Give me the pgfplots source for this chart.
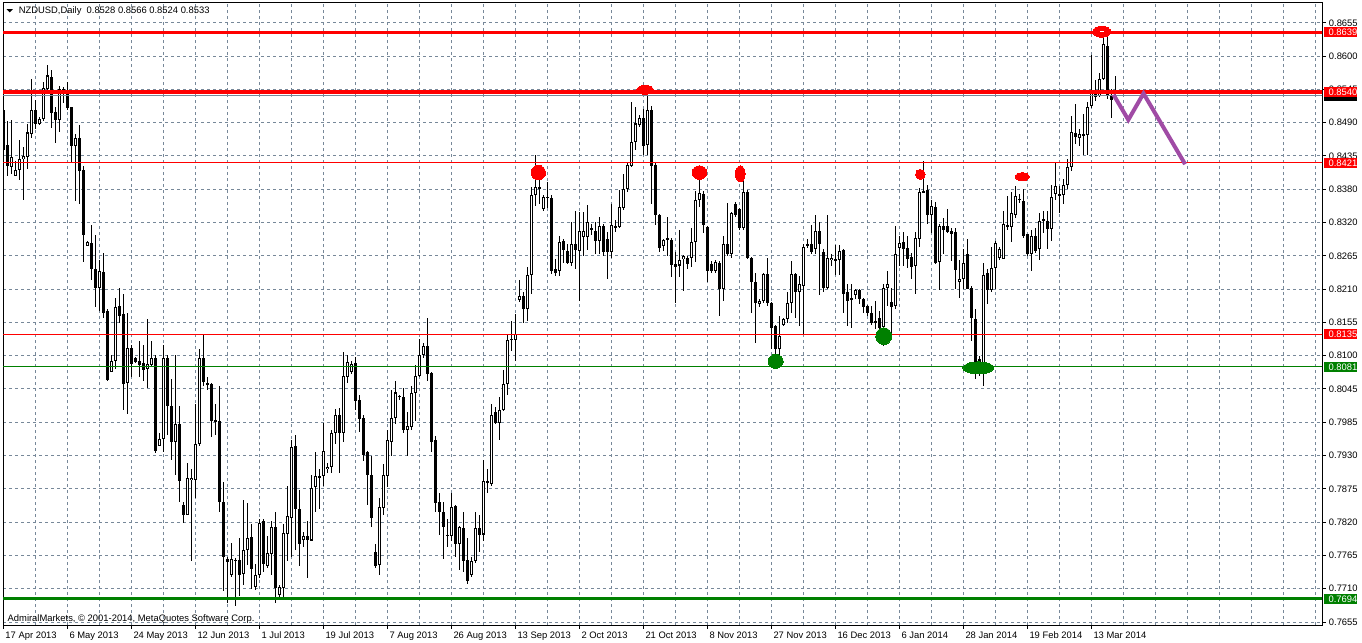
\documentclass[border=0pt]{standalone}
\usepackage{pgfplots}
\pgfplotsset{compat=1.18}
\usepackage{pgfplotstable}
\usepackage{fontspec}
\setmainfont{Liberation Sans}
\definecolor{gridc}{RGB}{119,136,153}
\definecolor{mtgreen}{RGB}{0,128,0}
\definecolor{mtpurple}{RGB}{160,75,165}
\newcommand\mt{\fontsize{4.7bp}{5.6bp}\selectfont}

\pgfplotstableread{
k o h l c
0 0.8510 0.8512 0.8410 0.8443
1 0.8451 0.8492 0.8399 0.8416
2 0.8415 0.8492 0.8402 0.8431
3 0.8400 0.8425 0.8399 0.8409
4 0.8409 0.8459 0.8393 0.8427
5 0.8428 0.8448 0.8359 0.8432
6 0.8431 0.8486 0.8411 0.8472
7 0.8470 0.8562 0.8463 0.8510
8 0.8510 0.8527 0.8477 0.8486
9 0.8486 0.8498 0.8484 0.8495
10 0.8495 0.8556 0.8492 0.8546
11 0.8544 0.8585 0.8538 0.8567
12 0.8564 0.8577 0.8480 0.8504
13 0.8507 0.8515 0.8454 0.8493
14 0.8493 0.8549 0.8472 0.8544
15 0.8538 0.8548 0.8521 0.8544
16 0.8538 0.8556 0.8510 0.8512
17 0.8515 0.8515 0.8422 0.8450
18 0.8450 0.8469 0.8358 0.8463
19 0.8463 0.8484 0.8352 0.8407
20 0.8410 0.8416 0.8256 0.8300
21 0.8283 0.8290 0.8282 0.8289
22 0.8288 0.8317 0.8226 0.8244
23 0.8244 0.8301 0.8180 0.8213
24 0.8213 0.8259 0.8174 0.8241
25 0.8240 0.8270 0.8162 0.8171
26 0.8174 0.8177 0.8057 0.8059
27 0.8073 0.8101 0.8072 0.8090
28 0.8091 0.8195 0.8078 0.8180
29 0.8183 0.8212 0.8154 0.8166
30 0.8169 0.8203 0.8008 0.8052
31 0.8054 0.8171 0.8003 0.8113
32 0.8113 0.8118 0.8064 0.8085
33 0.8096 0.8098 0.8087 0.8089
34 0.8091 0.8124 0.8064 0.8084
35 0.8087 0.8118 0.8057 0.8075
36 0.8078 0.8160 0.8046 0.8085
37 0.8084 0.8124 0.8083 0.8095
38 0.8096 0.8101 0.7937 0.7941
39 0.7949 0.7970 0.7948 0.7961
40 0.7961 0.8118 0.7938 0.8096
41 0.8096 0.8100 0.7968 0.8016
42 0.8016 0.8060 0.7926 0.7956
43 0.7955 0.8101 0.7900 0.7986
44 0.7986 0.8016 0.7856 0.7890
45 0.7851 0.7855 0.7821 0.7833
46 0.7834 0.7921 0.7833 0.7895
47 0.7892 0.7911 0.7757 0.7896
48 0.7892 0.8019 0.7862 0.7952
49 0.7952 0.8110 0.7949 0.8095
50 0.8095 0.8136 0.8049 0.8055
51 0.8054 0.8064 0.8043 0.8052
52 0.8052 0.8054 0.7964 0.7990
53 0.7992 0.8019 0.7967 0.7990
54 0.7990 0.8049 0.7839 0.7856
55 0.7856 0.7888 0.7706 0.7763
56 0.7760 0.7763 0.7687 0.7755
57 0.7734 0.7787 0.7730 0.7760
58 0.7759 0.7761 0.7681 0.7757
59 0.7759 0.7795 0.7698 0.7734
60 0.7735 0.7859 0.7716 0.7775
61 0.7775 0.7854 0.7751 0.7795
62 0.7797 0.7818 0.7711 0.7744
63 0.7713 0.7751 0.7708 0.7733
64 0.7734 0.7827 0.7728 0.7821
65 0.7824 0.7827 0.7739 0.7751
66 0.7749 0.7798 0.7746 0.7770
67 0.7769 0.7824 0.7734 0.7813
68 0.7813 0.7839 0.7687 0.7711
69 0.7700 0.7716 0.7696 0.7713
70 0.7712 0.7818 0.7692 0.7803
71 0.7802 0.7882 0.7757 0.7832
72 0.7829 0.7959 0.7763 0.7947
73 0.7948 0.7967 0.7775 0.7843
74 0.7843 0.7875 0.7749 0.7786
75 0.7792 0.7806 0.7780 0.7798
76 0.7798 0.7824 0.7728 0.7792
77 0.7791 0.7900 0.7790 0.7879
78 0.7880 0.7938 0.7839 0.7898
79 0.7896 0.7911 0.7844 0.7898
80 0.7898 0.7987 0.7882 0.7941
81 0.7910 0.7921 0.7903 0.7914
82 0.7913 0.7975 0.7903 0.7970
83 0.7970 0.8011 0.7952 0.8000
84 0.8000 0.8013 0.7903 0.7971
85 0.7970 0.8105 0.7955 0.8066
86 0.8064 0.8101 0.8054 0.8089
87 0.8073 0.8090 0.8069 0.8086
88 0.8087 0.8098 0.8008 0.8023
89 0.8026 0.8034 0.7973 0.7993
90 0.7996 0.8000 0.7923 0.7934
91 0.7938 0.7941 0.7850 0.7900
92 0.7900 0.7932 0.7813 0.7828
93 0.7772 0.7786 0.7745 0.7749
94 0.7751 0.7862 0.7734 0.7847
95 0.7845 0.7918 0.7833 0.7900
96 0.7898 0.7975 0.7880 0.7959
97 0.7956 0.8043 0.7932 0.7996
98 0.7996 0.8057 0.7985 0.8038
99 0.8031 0.8034 0.8026 0.8032
100 0.8030 0.8046 0.7970 0.7975
101 0.7975 0.8005 0.7932 0.7982
102 0.7980 0.8049 0.7975 0.8038
103 0.8037 0.8084 0.7990 0.8066
104 0.8066 0.8128 0.8064 0.8100
105 0.8100 0.8120 0.8095 0.8116
106 0.8116 0.8162 0.8057 0.8069
107 0.8070 0.8072 0.7938 0.7956
108 0.7959 0.7966 0.7839 0.7854
109 0.7855 0.7870 0.7801 0.7839
110 0.7839 0.7856 0.7760 0.7813
111 0.7799 0.7827 0.7780 0.7801
112 0.7798 0.7870 0.7790 0.7847
113 0.7848 0.7850 0.7763 0.7786
114 0.7786 0.7816 0.7742 0.7813
115 0.7812 0.7839 0.7739 0.7757
116 0.7758 0.7795 0.7719 0.7723
117 0.7734 0.7763 0.7731 0.7757
118 0.7757 0.7839 0.7754 0.7812
119 0.7812 0.7833 0.7772 0.7801
120 0.7801 0.7926 0.7790 0.7890
121 0.7891 0.7911 0.7870 0.7888
122 0.7885 0.8019 0.7882 0.8000
123 0.8005 0.8013 0.7985 0.7987
124 0.7987 0.8031 0.7959 0.8009
125 0.8009 0.8075 0.8008 0.8053
126 0.8052 0.8136 0.8034 0.8126
127 0.8126 0.8157 0.8107 0.8128
128 0.8126 0.8169 0.8090 0.8135
129 0.8192 0.8226 0.8189 0.8199
130 0.8199 0.8206 0.8154 0.8177
131 0.8177 0.8247 0.8157 0.8234
132 0.8234 0.8381 0.8203 0.8368
133 0.8367 0.8435 0.8349 0.8381
134 0.8379 0.8410 0.8352 0.8380
135 0.8345 0.8367 0.8341 0.8364
136 0.8363 0.8390 0.8346 0.8364
137 0.8363 0.8367 0.8236 0.8241
138 0.8244 0.8261 0.8233 0.8238
139 0.8241 0.8300 0.8233 0.8290
140 0.8290 0.8294 0.8255 0.8275
141 0.8275 0.8286 0.8252 0.8255
142 0.8254 0.8323 0.8250 0.8286
143 0.8286 0.8341 0.8244 0.8275
144 0.8275 0.8339 0.8191 0.8307
145 0.8298 0.8339 0.8266 0.8307
146 0.8298 0.8351 0.8275 0.8322
147 0.8310 0.8320 0.8300 0.8312
148 0.8307 0.8323 0.8269 0.8291
149 0.8291 0.8331 0.8269 0.8316
150 0.8316 0.8320 0.8266 0.8272
151 0.8295 0.8306 0.8227 0.8272
152 0.8272 0.8353 0.8263 0.8318
153 0.8313 0.8326 0.8306 0.8316
154 0.8314 0.8376 0.8312 0.8348
155 0.8346 0.8403 0.8342 0.8378
156 0.8378 0.8423 0.8373 0.8418
157 0.8416 0.8523 0.8414 0.8456
158 0.8456 0.8514 0.8442 0.8487
159 0.8485 0.8501 0.8481 0.8496
160 0.8496 0.8512 0.8434 0.8449
161 0.8451 0.8545 0.8434 0.8509
162 0.8509 0.8517 0.8353 0.8416
163 0.8417 0.8423 0.8317 0.8334
164 0.8334 0.8336 0.8272 0.8280
165 0.8282 0.8295 0.8275 0.8292
166 0.8292 0.8331 0.8266 0.8295
167 0.8293 0.8295 0.8230 0.8250
168 0.8252 0.8272 0.8188 0.8247
169 0.8250 0.8309 0.8230 0.8259
170 0.8261 0.8267 0.8208 0.8265
171 0.8263 0.8266 0.8244 0.8252
172 0.8263 0.8312 0.8247 0.8290
173 0.8290 0.8374 0.8256 0.8359
174 0.8359 0.8409 0.8348 0.8371
175 0.8370 0.8374 0.8305 0.8317
176 0.8314 0.8316 0.8222 0.8240
177 0.8252 0.8258 0.8238 0.8241
178 0.8241 0.8260 0.8238 0.8255
179 0.8255 0.8258 0.8165 0.8210
180 0.8210 0.8300 0.8191 0.8286
181 0.8286 0.8355 0.8266 0.8269
182 0.8269 0.8339 0.8263 0.8337
183 0.8353 0.8356 0.8331 0.8334
184 0.8345 0.8346 0.8309 0.8313
185 0.8313 0.8409 0.8309 0.8373
186 0.8373 0.8376 0.8261 0.8263
187 0.8263 0.8264 0.8171 0.8222
188 0.8222 0.8238 0.8121 0.8188
189 0.8186 0.8194 0.8180 0.8191
190 0.8191 0.8238 0.8188 0.8236
191 0.8236 0.8263 0.8183 0.8188
192 0.8188 0.8189 0.8110 0.8146
193 0.8149 0.8150 0.8096 0.8110
194 0.8110 0.8165 0.8093 0.8133
195 0.8151 0.8162 0.8149 0.8160
196 0.8160 0.8205 0.8154 0.8188
197 0.8188 0.8258 0.8171 0.8236
198 0.8236 0.8238 0.8162 0.8205
199 0.8205 0.8233 0.8149 0.8219
200 0.8216 0.8286 0.8135 0.8280
201 0.8284 0.8294 0.8280 0.8286
202 0.8286 0.8317 0.8269 0.8273
203 0.8277 0.8334 0.8269 0.8307
204 0.8307 0.8323 0.8200 0.8286
205 0.8273 0.8277 0.8205 0.8213
206 0.8213 0.8334 0.8211 0.8263
207 0.8259 0.8269 0.8249 0.8263
208 0.8261 0.8285 0.8235 0.8259
209 0.8260 0.8284 0.8235 0.8274
210 0.8276 0.8277 0.8171 0.8202
211 0.8205 0.8219 0.8149 0.8191
212 0.8193 0.8219 0.8146 0.8196
213 0.8200 0.8211 0.8194 0.8209
214 0.8209 0.8210 0.8185 0.8194
215 0.8194 0.8195 0.8171 0.8181
216 0.8183 0.8184 0.8166 0.8170
217 0.8170 0.8183 0.8150 0.8154
218 0.8157 0.8191 0.8144 0.8155
219 0.8163 0.8174 0.8141 0.8146
220 0.8148 0.8219 0.8116 0.8213
221 0.8213 0.8241 0.8183 0.8219
222 0.8189 0.8213 0.8138 0.8181
223 0.8182 0.8316 0.8177 0.8270
224 0.8280 0.8299 0.8249 0.8287
225 0.8289 0.8305 0.8249 0.8278
226 0.8280 0.8299 0.8246 0.8261
227 0.8265 0.8271 0.8227 0.8248
228 0.8249 0.8305 0.8202 0.8296
229 0.8294 0.8380 0.8280 0.8373
230 0.8373 0.8424 0.8371 0.8374
231 0.8376 0.8385 0.8319 0.8335
232 0.8334 0.8360 0.8305 0.8349
233 0.8348 0.8356 0.8252 0.8255
234 0.8256 0.8320 0.8209 0.8316
235 0.8316 0.8330 0.8269 0.8310
236 0.8316 0.8344 0.8305 0.8306
237 0.8308 0.8313 0.8258 0.8302
238 0.8305 0.8313 0.8210 0.8243
239 0.8223 0.8260 0.8195 0.8228
240 0.8228 0.8277 0.8210 0.8255
241 0.8269 0.8294 0.8210 0.8211
242 0.8213 0.8216 0.8124 0.8163
243 0.8161 0.8177 0.8060 0.8083
244 0.8094 0.8099 0.8066 0.8083
245 0.8083 0.8255 0.8049 0.8234
246 0.8238 0.8244 0.8185 0.8209
247 0.8209 0.8280 0.8205 0.8245
248 0.8245 0.8291 0.8210 0.8287
249 0.8263 0.8281 0.8260 0.8277
250 0.8261 0.8341 0.8260 0.8319
251 0.8315 0.8366 0.8310 0.8317
252 0.8315 0.8373 0.8289 0.8338
253 0.8335 0.8383 0.8330 0.8366
254 0.8361 0.8369 0.8355 0.8360
255 0.8358 0.8377 0.8296 0.8299
256 0.8302 0.8303 0.8266 0.8269
257 0.8269 0.8310 0.8241 0.8299
258 0.8299 0.8313 0.8271 0.8274
259 0.8278 0.8338 0.8259 0.8324
260 0.8325 0.8341 0.8305 0.8327
261 0.8324 0.8341 0.8278 0.8311
262 0.8311 0.8385 0.8291 0.8365
263 0.8369 0.8421 0.8360 0.8383
264 0.8367 0.8383 0.8338 0.8369
265 0.8367 0.8394 0.8352 0.8384
266 0.8384 0.8428 0.8377 0.8415
267 0.8415 0.8499 0.8408 0.8473
268 0.8471 0.8519 0.8452 0.8465
269 0.8463 0.8477 0.8449 0.8470
270 0.8467 0.8502 0.8435 0.8469
271 0.8467 0.8522 0.8434 0.8515
272 0.8516 0.8602 0.8513 0.8543
273 0.8543 0.8560 0.8524 0.8531
274 0.8533 0.8571 0.8531 0.8561
275 0.8561 0.8639 0.8560 0.8619
276 0.8617 0.8634 0.8527 0.8533
277 0.8534 0.8544 0.8496 0.8526
278 0.8528 0.8566 0.8524 0.8533
}\candles

\begin{document}
\begin{tikzpicture}
\useasboundingbox (0,0) rectangle (681bp,321.5bp);
\begin{axis}[
  at={(1.5bp,9bp)}, anchor=south west,
  scale only axis, width=659.5bp, height=311bp,
  xmin=-0.125, xmax=329.625, ymin=0.7650, ymax=0.8688,
  axis line style={line width=0.5bp, black},
  clip mode=individual,
  xtick={0,16,32,48,64,80,96,112,128,144,160,176,192,208,224,240,256,272},
  xticklabels={17 Apr 2013,6 May 2013,24 May 2013,12 Jun 2013,1 Jul 2013,19 Jul 2013,7 Aug 2013,26 Aug 2013,13 Sep 2013,2 Oct 2013,21 Oct 2013,8 Nov 2013,27 Nov 2013,16 Dec 2013,6 Jan 2014,28 Jan 2014,19 Feb 2014,13 Mar 2014},
  minor xtick={8,24,40,56,72,88,104,120,136,152,168,184,200,216,232,248,264,280,288,296,304,312,320,328},
  ytick={0.7655,0.77106,0.77661,0.78217,0.78772,0.79328,0.79883,0.80439,0.80994,0.8155,0.82106,0.82661,0.83217,0.83772,0.84328,0.84883,0.85439,0.85994,0.8655},
  yticklabels={0.7655,0.7710,0.7765,0.7820,0.7875,0.7930,0.7985,0.8045,0.8100,0.8155,0.8210,0.8265,0.8320,0.8380,0.8435,0.8490,0.8545,0.8600,0.8655},
  grid=both,
  major grid style={gridc, line width=0.5bp, dash pattern=on 1.5bp off 1.5bp},
  minor grid style={gridc, line width=0.5bp, dash pattern=on 1.5bp off 1.5bp},
  minor tick length=0pt,
  major tick length=1.75bp,
  tick align=outside,
  tick style={black, line width=0.5bp},
  xtick pos=left, ytick pos=right, yticklabel pos=right,
  ticklabel style={font=\mt, inner sep=0pt, text=black},
  xticklabel style={anchor=north west, xshift=0.8bp, yshift=-1.5bp},
  yticklabel style={anchor=west, xshift=1.5bp},
  candle/.style={forget plot, only marks, no markers, mark size=0pt,
    mark options={draw=none, fill=none},
    error bars/.cd, y dir=both, y explicit, error mark=none},
]
% wicks
\addplot[candle, error bar style={line width=0.5bp, draw=black}]
  table[x=k, y expr={(\thisrow{h}+\thisrow{l})/2}, y error expr={(\thisrow{h}-\thisrow{l})/2}] {\candles};
% bodies
\addplot[candle, error bar style={line width=1.5bp, draw=black}]
  table[x=k, y expr={(\thisrow{o}+\thisrow{c})/2}, y error expr={max(abs(\thisrow{o}-\thisrow{c})/2,0.00009)}] {\candles};
% hollow bull bodies
\addplot[candle, error bar style={line width=0.5bp, draw=white}]
  table[x=k, y expr={(\thisrow{o}+\thisrow{c})/2}, y error expr={(\thisrow{c}>\thisrow{o})*max((\thisrow{c}-\thisrow{o})/2-0.00017,0)}] {\candles};

% horizontal levels
\addplot[forget plot, gridc, line width=0.5bp] coordinates {(-1,0.8533) (331,0.8533)};
\addplot[forget plot, red, line width=1.5bp] coordinates {(-1,0.8639) (331,0.8639)};
\addplot[forget plot, red, line width=2bp] coordinates {(-1,0.8540) (331,0.8540)};
\addplot[forget plot, red, line width=0.5bp] coordinates {(-1,0.8421) (331,0.8421)};
\addplot[forget plot, red, line width=0.5bp] coordinates {(-1,0.8135) (331,0.8135)};
\addplot[forget plot, mtgreen, line width=0.5bp] coordinates {(-1,0.8081) (331,0.8081)};
\addplot[forget plot, mtgreen, line width=1.75bp] coordinates {(-1,0.7694) (331,0.7694)};

% ellipse markers
\addplot[forget plot, only marks, mark=*, red, mark size=3.6bp, mark options={line width=0pt}] coordinates {(133.7,0.8405)};
\addplot[forget plot, only marks, mark=*, red, mark size=3.4bp, mark options={line width=0pt, xscale=1.07}] coordinates {(174.0,0.8405)};
\addplot[forget plot, only marks, mark=*, red, mark size=3.9bp, mark options={line width=0pt, xscale=0.62}] coordinates {(184.2,0.8403)};
\addplot[forget plot, only marks, mark=*, red, mark size=2.5bp, mark options={line width=0pt, xscale=0.95}] coordinates {(229.2,0.8402)};
\addplot[forget plot, only marks, mark=*, red, mark size=2bp, mark options={line width=0pt, xscale=1.75}] coordinates {(254.7,0.8398)};
\addplot[forget plot, only marks, mark=*, red, mark size=2.2bp, mark options={line width=0pt, xscale=1.9}] coordinates {(160.4,0.8543)};
\addplot[forget plot, only marks, mark=*, red, mark size=2.75bp, mark options={line width=0pt, xscale=1.64}] coordinates {(274.55,0.8640)};
\addplot[forget plot, only marks, mark=-, white, mark size=1bp, mark options={line width=0.5bp}] coordinates {(274.55,0.8640)};
\addplot[forget plot, only marks, mark=*, mtgreen, mark size=3.5bp, mark options={line width=0pt, xscale=1.07}] coordinates {(193.05,0.8090)};
\addplot[forget plot, only marks, mark=*, mtgreen, mark size=4.2bp, mark options={line width=0pt, xscale=0.94}] coordinates {(220.05,0.8132)};
\addplot[forget plot, only marks, mark=*, mtgreen, mark size=3bp, mark options={line width=0pt, xscale=2.58}] coordinates {(243.7,0.8079)};

% projected path
\addplot[forget plot, mtpurple, line width=2bp] coordinates {(277.5,0.8535) (281.2,0.8493) (285.0,0.8537) (295.4,0.8419)};

\coordinate (r8639) at (axis cs:329.625,0.8639);
\coordinate (r8540) at (axis cs:329.625,0.8540);
\coordinate (r8533) at (axis cs:329.625,0.8533);
\coordinate (r8421) at (axis cs:329.625,0.8421);
\coordinate (r8135) at (axis cs:329.625,0.8135);
\coordinate (r8081) at (axis cs:329.625,0.8081);
\coordinate (r7694) at (axis cs:329.625,0.7694);
\end{axis}
\tikzset{lvl/.style={fill=#1, text=white, font=\mt, inner xsep=0pt, inner ysep=0.8bp, text height=3.4bp, text depth=0pt, anchor=west, xshift=0.6bp}}
\node[lvl=black] at (r8533) {\hspace{2.5bp}\phantom{0.8533}\hspace{0.6bp}};
\node[lvl=red] at (r8639) {\hspace{2.5bp}0.8639\hspace{0.6bp}};
\node[lvl=red] at (r8540) {\hspace{2.5bp}0.8540\hspace{0.6bp}};
\node[lvl=red] at (r8421) {\hspace{2.5bp}0.8421\hspace{0.6bp}};
\node[lvl=red] at (r8135) {\hspace{2.5bp}0.8135\hspace{0.6bp}};
\node[lvl=mtgreen] at (r8081) {\hspace{2.5bp}0.8081\hspace{0.6bp}};
\node[lvl=mtgreen] at (r7694) {\hspace{2.5bp}0.7694\hspace{0.6bp}};
% header
\fill (3.3bp,316.9bp) -- (6.4bp,316.9bp) -- (4.85bp,315.3bp) -- cycle;
\node[anchor=base west, inner sep=0pt, font=\mt] at (9.2bp,314.5bp) {NZDUSD,Daily\ \ 0.8528 0.8566 0.8524 0.8533};
\node[anchor=base west, inner sep=0pt, font=\mt] at (3.65bp,10.8bp) {AdmiralMarkets, © 2001-2014, MetaQuotes Software Corp.};
\end{tikzpicture}
\end{document}
